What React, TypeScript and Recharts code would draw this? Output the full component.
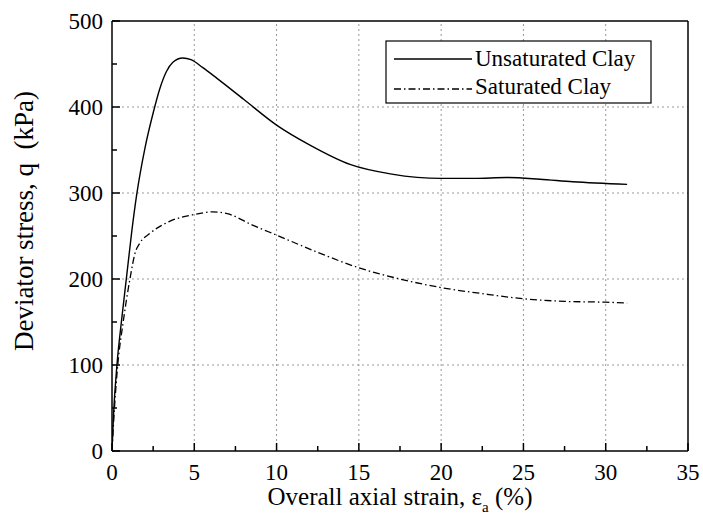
import React from 'react';
import { LineChart, Line, XAxis, YAxis, ReferenceLine, Legend, Label } from 'recharts';

// axial strain (%) vs deviator stress q (kPa)
const unsatStrain = [0, 0.1, 0.3, 0.6, 0.9, 1.2, 1.5, 2.0, 2.5, 2.9, 3.3, 3.7, 4.3, 4.8, 5.5, 6.4, 8.0, 10, 12, 14.5, 17, 20, 22, 24, 26, 28, 31.3];
const unsatStress = [0, 45, 100, 155, 205, 255, 298, 352, 393, 421, 441, 452, 457, 455, 446, 433, 409, 379, 356, 333, 322, 317, 317, 318, 316, 313, 310];

const satStrain = [0, 0.15, 0.35, 0.68, 1.09, 1.4, 1.7, 2.3, 3.5, 5.0, 6.1, 7.0, 8.5, 10, 12.5, 15, 17.5, 20, 22.5, 25, 27.5, 30, 31.3];
const satStress = [0, 50, 100, 150, 200, 230, 242, 253, 267, 275, 278, 276, 263, 251, 231, 213, 200, 190, 183, 177, 174, 173, 172];

const xTicks = [0, 2.5, 5, 7.5, 10, 12.5, 15, 17.5, 20, 22.5, 25, 27.5, 30, 32.5, 35];
const yTicks = [0, 50, 100, 150, 200, 250, 300, 350, 400, 450, 500];
const xGrid = [5, 10, 15, 20, 25, 30];
const yGrid = [100, 200, 300, 400];

const seriesNames = ['Unsaturated Clay', 'Saturated Clay'];

const unsatData = unsatStrain.map((x, i) => ({ x, q: unsatStress[i] }));
const satData = satStrain.map((x, i) => ({ x, q: satStress[i] }));

const FONT = '"Liberation Serif", "Times New Roman", serif';
const DASHDOT = '7 3 1.5 3';

const isMajorX = (v: number) => v % 5 === 0;
const isMajorY = (v: number) => v % 100 === 0;

const BottomTick = ({ x, y, payload }: any) => {
  const major = isMajorX(payload.value);
  return (
    <g>
      <line x1={x} x2={x} y1={y} y2={y - (major ? 8 : 5)} stroke="#000" strokeWidth={1.5} />
      {major && (
        <text x={x} y={y + 29} textAnchor="middle" fontSize={23} fontFamily={FONT} fill="#000">
          {payload.value}
        </text>
      )}
    </g>
  );
};

const TopTick = ({ x, y, payload }: any) => (
  <line x1={x} x2={x} y1={y} y2={y + (isMajorX(payload.value) ? 8 : 5)} stroke="#000" strokeWidth={1.5} />
);

const LeftTick = ({ x, y, payload }: any) => {
  const major = isMajorY(payload.value);
  return (
    <g>
      <line x1={x} x2={x + (major ? 8 : 5)} y1={y} y2={y} stroke="#000" strokeWidth={1.5} />
      {major && (
        <text x={x - 9} y={y + 8} textAnchor="end" fontSize={23} fontFamily={FONT} fill="#000">
          {payload.value}
        </text>
      )}
    </g>
  );
};

const RightTick = ({ x, y, payload }: any) => (
  <line x1={x} x2={x - (isMajorY(payload.value) ? 8 : 5)} y1={y} y2={y} stroke="#000" strokeWidth={1.5} />
);

const LegendBox = () => (
  <svg width={267} height={64} style={{ display: 'block' }}>
    <rect x={1} y={1} width={265} height={62} fill="#fff" stroke="#000" strokeWidth={1.2} />
    <line x1={9} x2={87} y1={19} y2={19} stroke="#000" strokeWidth={1.3} />
    <text x={90} y={26} fontSize={23} fontFamily={FONT} fill="#000">{seriesNames[0]}</text>
    <line x1={9} x2={87} y1={49} y2={49} stroke="#000" strokeWidth={1.3} strokeDasharray={DASHDOT} />
    <text x={90} y={54} fontSize={23} fontFamily={FONT} fill="#000">{seriesNames[1]}</text>
  </svg>
);

const XTitle = () => (
  <text x={400} y={505} textAnchor="middle" fontSize={25} fontFamily={FONT} fill="#000">
    Overall axial strain, ε<tspan fontSize={15} dy={7}>a</tspan><tspan dy={-7}> (%)</tspan>
  </text>
);

const YTitle = () => (
  <text x={0} y={0} transform="translate(33, 221) rotate(-90)" textAnchor="middle" fontSize={27} fontFamily={FONT}
    fill="#000" style={{ whiteSpace: 'pre' }}>
    {'Deviator stress, q  (kPa)'}
  </text>
);

export default function App() {
  return (
    <div style={{ position: 'absolute', left: 0, top: 0, background: '#fff' }}>
      <LineChart width={703} height={519} margin={{ top: 20, right: 14, bottom: 67, left: 111 }}>
        <XAxis xAxisId="b" type="number" dataKey="x" domain={[0, 35]} ticks={xTicks} orientation="bottom"
          height={1} tickSize={0} tickMargin={0} tickLine={false} tick={<BottomTick />}
          axisLine={{ stroke: '#000', strokeWidth: 1.5 }} allowDataOverflow interval={0}>
          <Label content={<XTitle />} />
        </XAxis>
        <XAxis xAxisId="t" type="number" dataKey="x" domain={[0, 35]} ticks={xTicks} orientation="top"
          height={1} tickSize={0} tickMargin={0} tickLine={false} tick={<TopTick />}
          axisLine={{ stroke: '#000', strokeWidth: 1.5 }} interval={0} />
        <YAxis yAxisId="l" type="number" domain={[0, 500]} ticks={yTicks} width={1} tickSize={0} tickMargin={0}
          tickLine={false} tick={<LeftTick />} axisLine={{ stroke: '#000', strokeWidth: 1.5 }} interval={0}>
          <Label content={<YTitle />} />
        </YAxis>
        <YAxis yAxisId="r" orientation="right" type="number" domain={[0, 500]} ticks={yTicks} width={1} tickSize={0}
          tickMargin={0} tickLine={false} tick={<RightTick />} axisLine={{ stroke: '#000', strokeWidth: 1.5 }} interval={0} />
        {xGrid.map((v) => (
          <ReferenceLine key={'gx' + v} xAxisId="b" yAxisId="l" x={v} stroke="#999" strokeDasharray="2 3" strokeWidth={1} />
        ))}
        {yGrid.map((v) => (
          <ReferenceLine key={'gy' + v} xAxisId="b" yAxisId="l" y={v} stroke="#999" strokeDasharray="2 3" strokeWidth={1} />
        ))}
        <Line xAxisId="b" yAxisId="l" data={unsatData} dataKey="q" name={seriesNames[0]} type="monotone"
          stroke="#000" strokeWidth={1.4} dot={false} isAnimationActive={false} />
        <Line xAxisId="b" yAxisId="l" data={satData} dataKey="q" name={seriesNames[1]} type="monotone"
          stroke="#000" strokeWidth={1.3} strokeDasharray={DASHDOT} dot={false} isAnimationActive={false} />
        <Legend layout="vertical" align="center" verticalAlign="middle" content={<LegendBox />}
          wrapperStyle={{ position: 'absolute', left: 385, top: 40, width: 267, height: 64 }} />
      </LineChart>
    </div>
  );
}
